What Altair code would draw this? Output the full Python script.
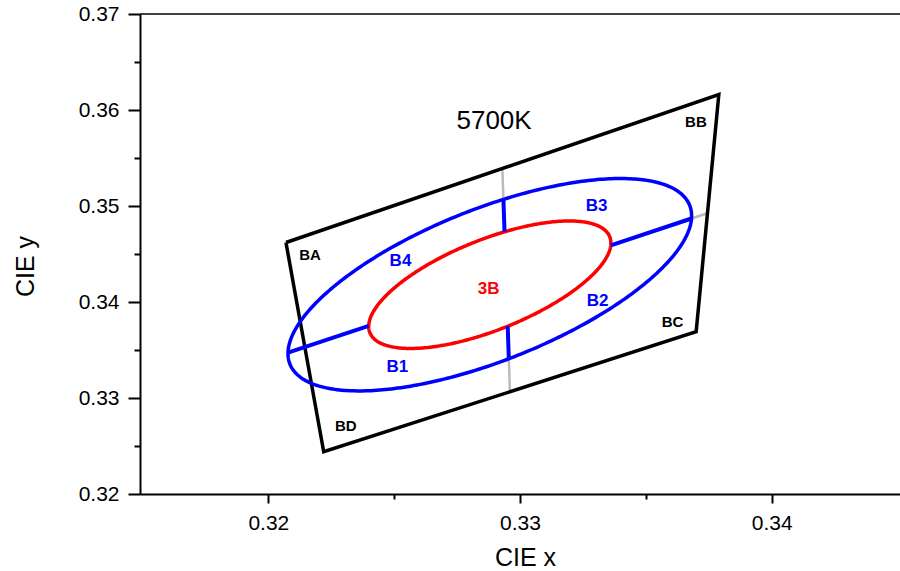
import numpy as np
import pandas as pd
import altair as alt

# ---------------- data ----------------
# quadrangle corners (BA, BB, BC, BD)
quad_names = ["BA", "BB", "BC", "BD"]
quad_x = [0.3207, 0.3379, 0.3370, 0.3222]
quad_y = [0.3462, 0.3616, 0.3369, 0.3244]

# ellipse parameters: centre, semi-axes, rotation (deg)
ell_cx, ell_cy = 0.3288, 0.3418
red_a, red_b, red_theta = 0.00755, 0.00320, 58.3
blue_a, blue_b, blue_theta = 0.01256, 0.00538, 58.4

# text labels
corner_text = ["BA", "BB", "BC", "BD"]
corner_lx = [0.32166, 0.33699, 0.33606, 0.32308]
corner_ly = [0.34493, 0.35873, 0.33795, 0.32711]

bin_text = ["B1", "B2", "B3", "B4", "3B"]
bin_lx = [0.32513, 0.33308, 0.33304, 0.32525, 0.32875]
bin_ly = [0.33324, 0.34011, 0.35003, 0.34428, 0.34139]
bin_color = ["#0000FF", "#0000FF", "#0000FF", "#0000FF", "#FF0000"]

cct_text = ["5700K"]
cct_x = [0.32897]
cct_y = [0.35889]

x_ticks = [0.32, 0.325, 0.33, 0.335, 0.34]
y_ticks = [0.32, 0.325, 0.33, 0.335, 0.34, 0.345, 0.35, 0.355, 0.36, 0.365, 0.37]

# ---------------- derived tables ----------------
quad_df = pd.DataFrame({
    "x": quad_x + [quad_x[0]],
    "y": quad_y + [quad_y[0]],
    "o": list(range(5)),
})


def ellipse_df(a, b, theta_deg, n=361):
    th = np.radians(theta_deg)
    t = np.linspace(0, 2 * np.pi, n)
    x = ell_cx + a * np.cos(th) * np.cos(t) - b * np.sin(th) * np.sin(t)
    y = ell_cy + a * np.sin(th) * np.cos(t) + b * np.cos(th) * np.sin(t)
    return pd.DataFrame({"x": x, "y": y, "o": np.arange(n)})


def roots(p0, p1, a, b, theta_deg):
    th = np.radians(theta_deg)
    c, s = np.cos(th), np.sin(th)

    def uv(dx, dy):
        return np.array([(dx * c + dy * s) / a, (-dx * s + dy * c) / b])

    d0 = uv(p0[0] - ell_cx, p0[1] - ell_cy)
    D = uv(p1[0] - p0[0], p1[1] - p0[1])
    A = D @ D
    B = 2 * d0 @ D
    C = d0 @ d0 - 1
    disc = np.sqrt(B * B - 4 * A * C)
    return sorted([(-B - disc) / (2 * A), (-B + disc) / (2 * A)])


def mid(i, j):
    return ((quad_x[i] + quad_x[j]) / 2, (quad_y[i] + quad_y[j]) / 2)


midlines = [(mid(0, 1), mid(3, 2)), (mid(0, 3), mid(1, 2))]
blue_rows, gray_rows = [], []
for p0, p1 in midlines:
    r1, r2 = roots(p0, p1, red_a, red_b, red_theta)
    b1, b2 = roots(p0, p1, blue_a, blue_b, blue_theta)

    def pt(s):
        return (p0[0] + s * (p1[0] - p0[0]), p0[1] + s * (p1[1] - p0[1]))

    for s0, s1 in [(b1, r1), (r2, b2)]:
        (xa, ya), (xb, yb) = pt(s0), pt(s1)
        blue_rows.append({"x": xa, "y": ya, "x2": xb, "y2": yb})
    if b1 > 0:
        (xa, ya), (xb, yb) = pt(0), pt(b1)
        gray_rows.append({"x": xa, "y": ya, "x2": xb, "y2": yb})
    if b2 < 1:
        (xa, ya), (xb, yb) = pt(b2), pt(1)
        gray_rows.append({"x": xa, "y": ya, "x2": xb, "y2": yb})

blue_seg = pd.DataFrame(blue_rows)
gray_seg = pd.DataFrame(gray_rows)

corner_df = pd.DataFrame({"t": corner_text, "x": corner_lx, "y": corner_ly})
bin_df = pd.DataFrame({"t": bin_text, "x": bin_lx, "y": bin_ly, "c": bin_color})
cct_df = pd.DataFrame({"t": cct_text, "x": cct_x, "y": cct_y})

# ---------------- axes ----------------
FONT = "Liberation Sans"
major_test = "abs(datum.value*100 - round(datum.value*100)) < 0.01"

x_axis = alt.Axis(
    values=x_ticks,
    labelExpr="abs(datum.value*100 - round(datum.value*100)) < 0.01 ? format(datum.value, '.2f') : ''",
    title="CIE x", titleFont=FONT, titleFontSize=25, titleFontWeight="normal",
    titleColor="black", titleX=385, titleY=71, titleBaseline="alphabetic", titleAlign="center",
    labelFont=FONT, labelFontSize=21, labelColor="black", labelPadding=9,
    labelFlush=False, labelOverlap=False,
    tickColor="black", tickWidth=2,
    tickSize={"condition": {"test": major_test, "value": 9}, "value": 5},
    domainColor="black", domainWidth=2, grid=False,
)
y_axis = alt.Axis(
    values=y_ticks,
    labelExpr="abs(datum.value*100 - round(datum.value*100)) < 0.01 ? format(datum.value, '.2f') : ''",
    title="CIE y", titleFont=FONT, titleFontSize=25, titleFontWeight="normal",
    titleColor="black", titleX=-107, titleY=252, titleBaseline="alphabetic", titleAlign="center",
    titleAngle=270,
    labelFont=FONT, labelFontSize=21, labelColor="black", labelPadding=9,
    labelFlush=False, labelOverlap=False,
    tickColor="black", tickWidth=2,
    tickSize={"condition": {"test": major_test, "value": 12}, "value": 6},
    domainColor="black", domainWidth=2, grid=False,
)
xs = alt.Scale(domain=[0.3149, 0.3451], nice=False, zero=False)
ys = alt.Scale(domain=[0.32, 0.37], nice=False, zero=False)


def X(f="x"):
    return alt.X(f, type="quantitative", scale=xs, axis=x_axis)


def Y(f="y"):
    return alt.Y(f, type="quantitative", scale=ys, axis=y_axis)


gray_layer = alt.Chart(gray_seg).mark_rule(color="#BBBBBB", strokeWidth=2.5).encode(
    x=X(), y=Y(), x2="x2:Q", y2="y2:Q")

quad_layer = alt.Chart(quad_df).mark_line(
    color="black", strokeWidth=3.5, strokeJoin="miter").encode(
    x=X(), y=Y(), order="o:Q")

blue_ell = alt.Chart(ellipse_df(blue_a, blue_b, blue_theta)).mark_line(
    color="#0000FF", strokeWidth=3.5).encode(x=X(), y=Y(), order="o:Q")
red_ell = alt.Chart(ellipse_df(red_a, red_b, red_theta)).mark_line(
    color="#FF0000", strokeWidth=3.5).encode(x=X(), y=Y(), order="o:Q")

blue_layer = alt.Chart(blue_seg).mark_rule(color="#0000FF", strokeWidth=4).encode(
    x=X(), y=Y(), x2="x2:Q", y2="y2:Q")

corner_layer = alt.Chart(corner_df).mark_text(
    font=FONT, fontSize=15, fontWeight="bold", color="black",
    align="center", baseline="middle").encode(x=X(), y=Y(), text="t:N")

bin_layer = alt.Chart(bin_df).mark_text(
    font=FONT, fontSize=17, fontWeight="bold",
    align="center", baseline="middle").encode(
    x=X(), y=Y(), text="t:N", color=alt.Color("c:N", scale=None))

cct_layer = alt.Chart(cct_df).mark_text(
    font=FONT, fontSize=26, color="black",
    align="center", baseline="middle").encode(x=X(), y=Y(), text="t:N")

top_line = alt.Chart(cct_df).mark_rule(color="black", strokeWidth=1.5).encode(
    x=alt.value(0), x2=alt.value(760), y=alt.value(0))

chart = alt.layer(
    gray_layer, quad_layer, blue_ell, red_ell, blue_layer,
    corner_layer, bin_layer, cct_layer, top_line,
).properties(
    width=760, height=480,
    padding={"left": 140, "top": 14, "right": 0, "bottom": 77},
    autosize=alt.AutoSizeParams(type="none"),
    background="white",
).configure_view(stroke=None)

chart.save("out.html", embed_options={"renderer": "svg", "actions": False})
